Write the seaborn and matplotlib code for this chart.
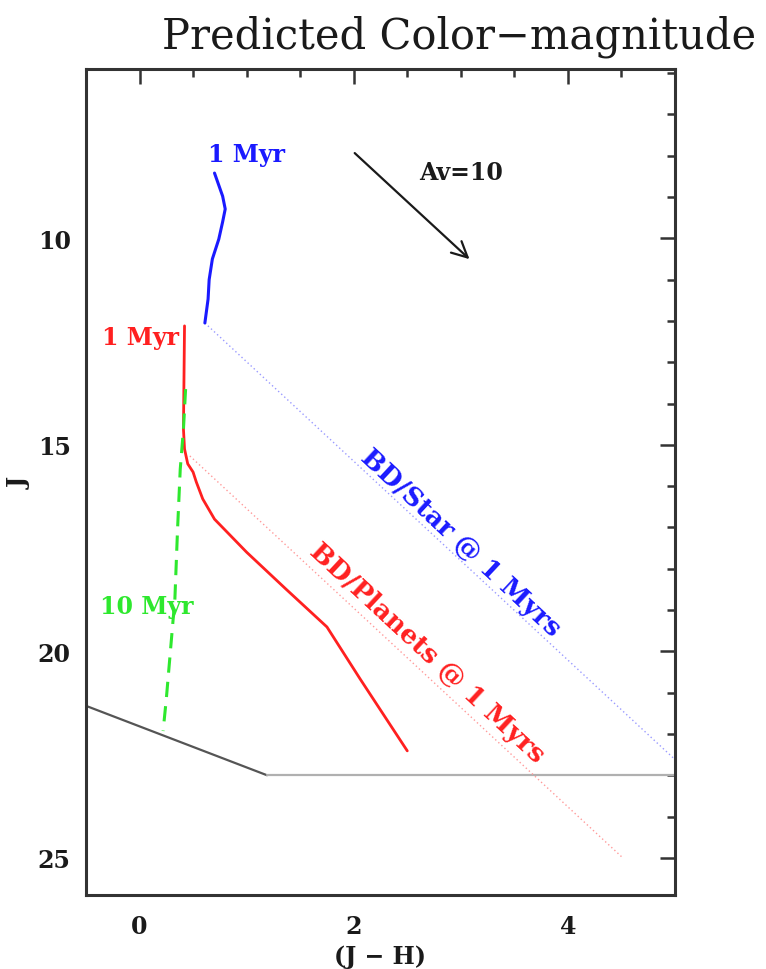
import numpy as np
import pandas as pd
import matplotlib
matplotlib.use("Agg")
import matplotlib.pyplot as plt
import seaborn as sns

# ---- isochrone tracks (J-H colour, J magnitude) ----
blue_1myr_jh = [0.70, 0.776, 0.80, 0.776, 0.74, 0.68, 0.65, 0.64, 0.61]
blue_1myr_j = [8.42, 8.98, 9.29, 9.60, 10.02, 10.50, 11.00, 11.47, 12.05]

red_1myr_jh = [0.42, 0.41, 0.42, 0.45, 0.50, 0.53, 0.59, 0.70, 1.00, 1.37, 1.75, 2.06, 2.50]
red_1myr_j = [12.12, 14.62, 15.10, 15.46, 15.66, 15.90, 16.31, 16.80, 17.60, 18.50, 19.41, 20.67, 22.41]

green_10myr_jh = [0.43, 0.41, 0.38, 0.355, 0.33, 0.29, 0.25, 0.22]
green_10myr_j = [13.65, 14.62, 15.59, 17.04, 18.73, 19.94, 21.15, 21.93]

# boundary lines running along the reddening direction
bd_star_jh = [0.61, 5.00]
bd_star_j = [12.05, 22.62]
bd_planet_jh = [0.47, 4.50]
bd_planet_j = [15.27, 24.97]

# detection limit
limit_slope_jh = [-0.50, 1.19]
limit_slope_j = [21.32, 23.00]
limit_flat_jh = [1.19, 5.50]
limit_flat_j = [23.00, 23.00]

# extinction vector, Av = 10
av_start = (1.99, 7.89)
av_end = (3.10, 10.55)

x_ticks = [0, 2, 4]
y_ticks = [10, 15, 20, 25]

sns.set_theme(style="white")
plt.rcParams["font.family"] = ["DejaVu Serif", "DejaVu Sans"]

fig = plt.figure(figsize=(7.66, 9.70), dpi=100)
ax = fig.add_axes([86 / 766, 74 / 970, 589 / 766, 826 / 970])


def track(xs, ys, **kw):
    df = pd.DataFrame({"x": xs, "y": ys})
    sns.lineplot(data=df, x="x", y="y", sort=False, estimator=None, ax=ax, **kw)


track(limit_slope_jh, limit_slope_j, color="#555555", lw=1.6)
track(limit_flat_jh, limit_flat_j, color="#b0b0b0", lw=1.6)
track(bd_star_jh, bd_star_j, color="#9a9aff", lw=1.0, linestyle=(0, (1, 2)))
track(bd_planet_jh, bd_planet_j, color="#ff9a9a", lw=1.0, linestyle=(0, (1, 2)))
track(blue_1myr_jh, blue_1myr_j, color="#1a1aff", lw=2.2)
track(red_1myr_jh, red_1myr_j, color="#ff2020", lw=2.0)
track(green_10myr_jh, green_10myr_j, color="#2ee82e", lw=2.2, linestyle=(0, (5, 3)))

ax.annotate("", xy=av_end, xytext=av_start,
            arrowprops=dict(arrowstyle="->", lw=1.6, color="#1a1a1a", mutation_scale=28))
ax.text(3.0, 8.39, "Av=10", ha="center", va="center", fontsize=17,
        fontweight="bold", color="#1a1a1a")

ax.text(0.64, 7.96, "1 Myr", ha="left", va="center", fontsize=17,
        fontweight="bold", color="#1a1aff")
ax.text(-0.355, 12.39, "1 Myr", ha="left", va="center", fontsize=17,
        fontweight="bold", color="#ff2020")
ax.text(-0.37, 18.9, "10 Myr", ha="left", va="center", fontsize=17,
        fontweight="bold", color="#2ee82e")

ang = -np.degrees(np.arctan2(436, 470))
ax.text(3.0, 17.35, "BD/Star @ 1 Myrs", ha="center", va="center", rotation=ang,
        rotation_mode="anchor", fontsize=19, fontweight="bold", color="#1a1aff")
ax.text(2.69, 20.02, "BD/Planets @ 1 Myrs", ha="center", va="center", rotation=ang,
        rotation_mode="anchor", fontsize=19, fontweight="bold", color="#ff2020")

ax.set_xlim(-0.5, 5.0)
ax.set_ylim(25.9, 5.9)
ax.set_xticks(x_ticks)
ax.set_yticks(y_ticks)
ax.set_xticks(np.arange(-0.5, 5.01, 0.5), minor=True)
ax.set_yticks(np.arange(6, 26, 1), minor=True)
ax.tick_params(which="both", direction="in", top=True, right=True, color="#333333", width=1.8)
ax.tick_params(which="major", length=11)
ax.tick_params(which="minor", length=6)
ax.tick_params(axis="x", which="major", pad=14, labelsize=17)
ax.tick_params(axis="y", which="major", pad=11, labelsize=17)
for lab in ax.get_xticklabels() + ax.get_yticklabels():
    lab.set_fontweight("bold")
    lab.set_color("#1a1a1a")
for s in ax.spines.values():
    s.set_color("#333333")
    s.set_linewidth(2.2)

ax.set_xlabel("(J − H)", fontsize=17, fontweight="bold", color="#1a1a1a", labelpad=4)
ax.set_ylabel("J", fontsize=17, fontweight="bold", color="#1a1a1a", labelpad=4)

fig.text(162 / 766, 1 - 49 / 970, "Predicted Color−magnitude", ha="left", va="baseline",
         fontsize=30, color="#1a1a1a")

fig.savefig("out.png", dpi=100, facecolor="white")
